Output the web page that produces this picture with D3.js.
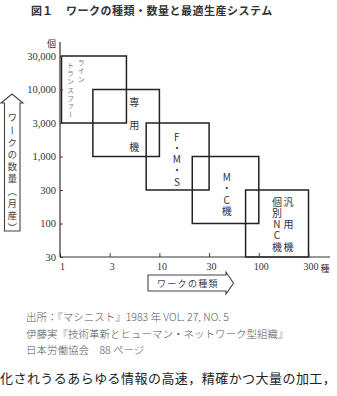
<!DOCTYPE html>
<html>
<head>
<meta charset="utf-8">
<script src="https://cdn.jsdelivr.net/npm/d3@7"></script>
<style>
  body { margin: 0; background: #fff; }
  svg { display: block; }
</style>
</head>
<body>
<svg id="chart"></svg>
<script>
// axis ticks (the picture uses equal steps per tick)
const xTicks = [1, 3, 10, 30, 100, 300];
const yTicks = [30, 100, 300, 1000, 3000, 10000, 30000];
const yTickLabels = ["30", "100", "300", "1,000", "3,000", "10,000", "30,000"];

// production systems: columns of vertical text, right column first
const systems = [["ライン", "トランスファー"], ["専用機"], ["F・M・S"], ["M・C機"], ["汎用機", "個別NC機"]];
const typesMin = [1, 2, 7, 20, 70];
const typesMax = [4.5, 10, 30, 100, 300];
const qtyMin = [3000, 1000, 300, 100, 30];
const qtyMax = [30000, 10000, 3000, 1000, 300];

const titleNo = "図１";
const title = "ワークの種類・数量と最適生産システム";
const notes = [
  "出所：『マシニスト』1983 年  VOL. 27, NO. 5",
  "伊藤実『技術革新とヒューマン・ネットワーク型組織』",
  "日本労働協会　88 ページ"
];
const bodyLine = "化されうるあらゆる情報の高速，精確かつ大量の加工，";

const JP = '"Noto Sans CJK JP", sans-serif';
const NUM = '"Liberation Serif", "DejaVu Serif", serif';

const W = 337, H = 396;
const plot = { left: 60, bottom: 257, xStep: 49.7, yStep: 33.5 };

const svg = d3.select("#chart").attr("width", W).attr("height", H);

const x = d3.scaleLog()
  .domain(xTicks)
  .range(xTicks.map((d, i) => plot.left + i * plot.xStep));
const y = d3.scaleLog()
  .domain(yTicks)
  .range(yTicks.map((d, i) => plot.bottom - i * plot.yStep));

// title
svg.append("text")
  .style("font-family", JP)
  .attr("x", 31).attr("y", 15)
  .attr("font-size", 11).attr("font-weight", 700)
  .attr("fill", "#333")
  .text(titleNo);
svg.append("text")
  .style("font-family", JP)
  .attr("x", 66).attr("y", 15)
  .attr("font-size", 11).attr("font-weight", 700)
  .attr("letter-spacing", 0.5)
  .attr("fill", "#333")
  .text(title);

// boxes
const boxes = systems.map((cols, i) => ({
  cols, x0: typesMin[i], x1: typesMax[i], y0: qtyMin[i], y1: qtyMax[i], i
}));

svg.append("g")
  .selectAll("rect")
  .data(boxes)
  .join("rect")
  .attr("x", d => x(d.x0) + 1.5)
  .attr("y", d => y(d.y1))
  .attr("width", d => x(d.x1) - x(d.x0) - 1.5)
  .attr("height", d => y(d.y0) - y(d.y1))
  .attr("fill", "none")
  .attr("stroke", "#222")
  .attr("stroke-width", 1.5);

// axes
const xAxis = d3.axisBottom(x)
  .tickValues(xTicks)
  .tickSize(-4)
  .tickPadding(6)
  .tickFormat(d3.format("d"));

const gx = svg.append("g")
  .attr("transform", `translate(0,${plot.bottom})`)
  .call(xAxis);
gx.select(".domain").remove();
gx.append("line")
  .attr("x1", plot.left).attr("x2", 330)
  .attr("stroke", "#333").attr("stroke-width", 1.2);
gx.selectAll(".tick line").attr("stroke", "#444");
gx.selectAll(".tick text")
  .style("font-family", NUM)
  .style("font-size", "10px")
  .attr("fill", "#333")
  .attr("dx", 2);

svg.append("text")
  .style("font-family", JP)
  .attr("x", x(300) + 12).attr("y", plot.bottom + 15)
  .attr("font-size", 9).attr("fill", "#333")
  .text("種");

const yAxis = d3.axisLeft(y)
  .tickValues(yTicks)
  .tickSize(-3)
  .tickPadding(4)
  .tickFormat((d, i) => yTickLabels[i]);

const gy = svg.append("g")
  .attr("transform", `translate(${plot.left},0)`)
  .call(yAxis);
gy.select(".domain").remove();
gy.append("line")
  .attr("y1", 42).attr("y2", plot.bottom)
  .attr("stroke", "#333").attr("stroke-width", 1.2);
gy.selectAll(".tick line").attr("stroke", "#444");
gy.selectAll(".tick text")
  .style("font-family", NUM)
  .style("font-size", "10.5px")
  .attr("fill", "#333");

svg.append("text")
  .style("font-family", JP)
  .attr("x", 56).attr("y", 47)
  .attr("text-anchor", "end")
  .attr("font-size", 9).attr("fill", "#333")
  .text("個");

// vertical labels inside the boxes
const labelStyle = [
  { size: 7, spacing: 1.3, colGap: 10.7, dx: 0.32, dy: 3, fill: "#777" },
  { size: 10, spacing: 12.5, colGap: 0, dx: 0.63, dy: 8, fill: "#333" },
  { size: 10, spacing: 1.2, colGap: 0, dx: 0.5, dy: 9, fill: "#333" },
  { size: 10, spacing: 1.2, colGap: 0, dx: 0.53, dy: 16, fill: "#333" },
  { size: 10, spacing: 1.2, colGap: 11.6, dx: 0.69, dy: 7, fill: "#333" }
];

boxes.forEach(b => {
  const s = labelStyle[b.i];
  const left = x(b.x0), right = x(b.x1), top = y(b.y1);
  b.cols.forEach((col, j) => {
    // 個別NC機 sets the pace; 汎用機 is spread to match it
    let spacing = s.spacing;
    if (b.i === 4 && j === 0) spacing = 12.5;
    svg.append("text")
      .style("font-family", JP)
      .attr("x", left + (right - left) * s.dx - j * s.colGap)
      .attr("y", top + s.dy + (b.i === 0 && j === 1 ? 2.5 : 0))
      .attr("font-size", s.size)
      .attr("letter-spacing", spacing)
      .attr("fill", s.fill)
      .style("writing-mode", "vertical-rl")
      .style("text-orientation", "upright")
      .text(col);
  });
});

// y axis title: up arrow with vertical text
const yArrow = [[12, 94], [1, 103], [4.5, 103], [4.5, 231], [20, 231], [20, 103], [23, 103]];
svg.append("path")
  .attr("d", d3.line()(yArrow) + "Z")
  .attr("fill", "#fff")
  .attr("stroke", "#444")
  .attr("stroke-width", 1.1);
svg.append("text")
  .style("font-family", JP)
  .attr("x", 12.3).attr("y", 113)
  .attr("font-size", 9.5)
  .attr("letter-spacing", 2.7)
  .attr("fill", "#444")
  .style("writing-mode", "vertical-rl")
  .text("ワークの数量（月産）");

// x axis title: right arrow with text
const xArrow = [[148, 275], [226, 275], [226, 272], [233.5, 283.3], [226, 294], [226, 291], [148, 291]];
svg.append("path")
  .attr("d", d3.line()(xArrow) + "Z")
  .attr("fill", "#fff")
  .attr("stroke", "#444")
  .attr("stroke-width", 1.1);
svg.append("text")
  .style("font-family", JP)
  .attr("x", 157).attr("y", 286.5)
  .attr("font-size", 9)
  .attr("letter-spacing", 1.3)
  .attr("fill", "#444")
  .text("ワークの種類");

// source notes
svg.append("g")
  .selectAll("text")
  .data(notes)
  .join("text")
  .style("font-family", JP)
  .attr("x", 26)
  .attr("y", (d, i) => 321 + i * 16.5)
  .attr("font-size", 10.5)
  .attr("font-weight", 300)
  .attr("fill", "#555")
  .text(d => d);

svg.append("text")
  .style("font-family", JP)
  .attr("x", 0).attr("y", 383)
  .attr("font-size", 13)
  .attr("letter-spacing", 0.45)
  .attr("fill", "#222")
  .text(bodyLine);
</script>
</body>
</html>
